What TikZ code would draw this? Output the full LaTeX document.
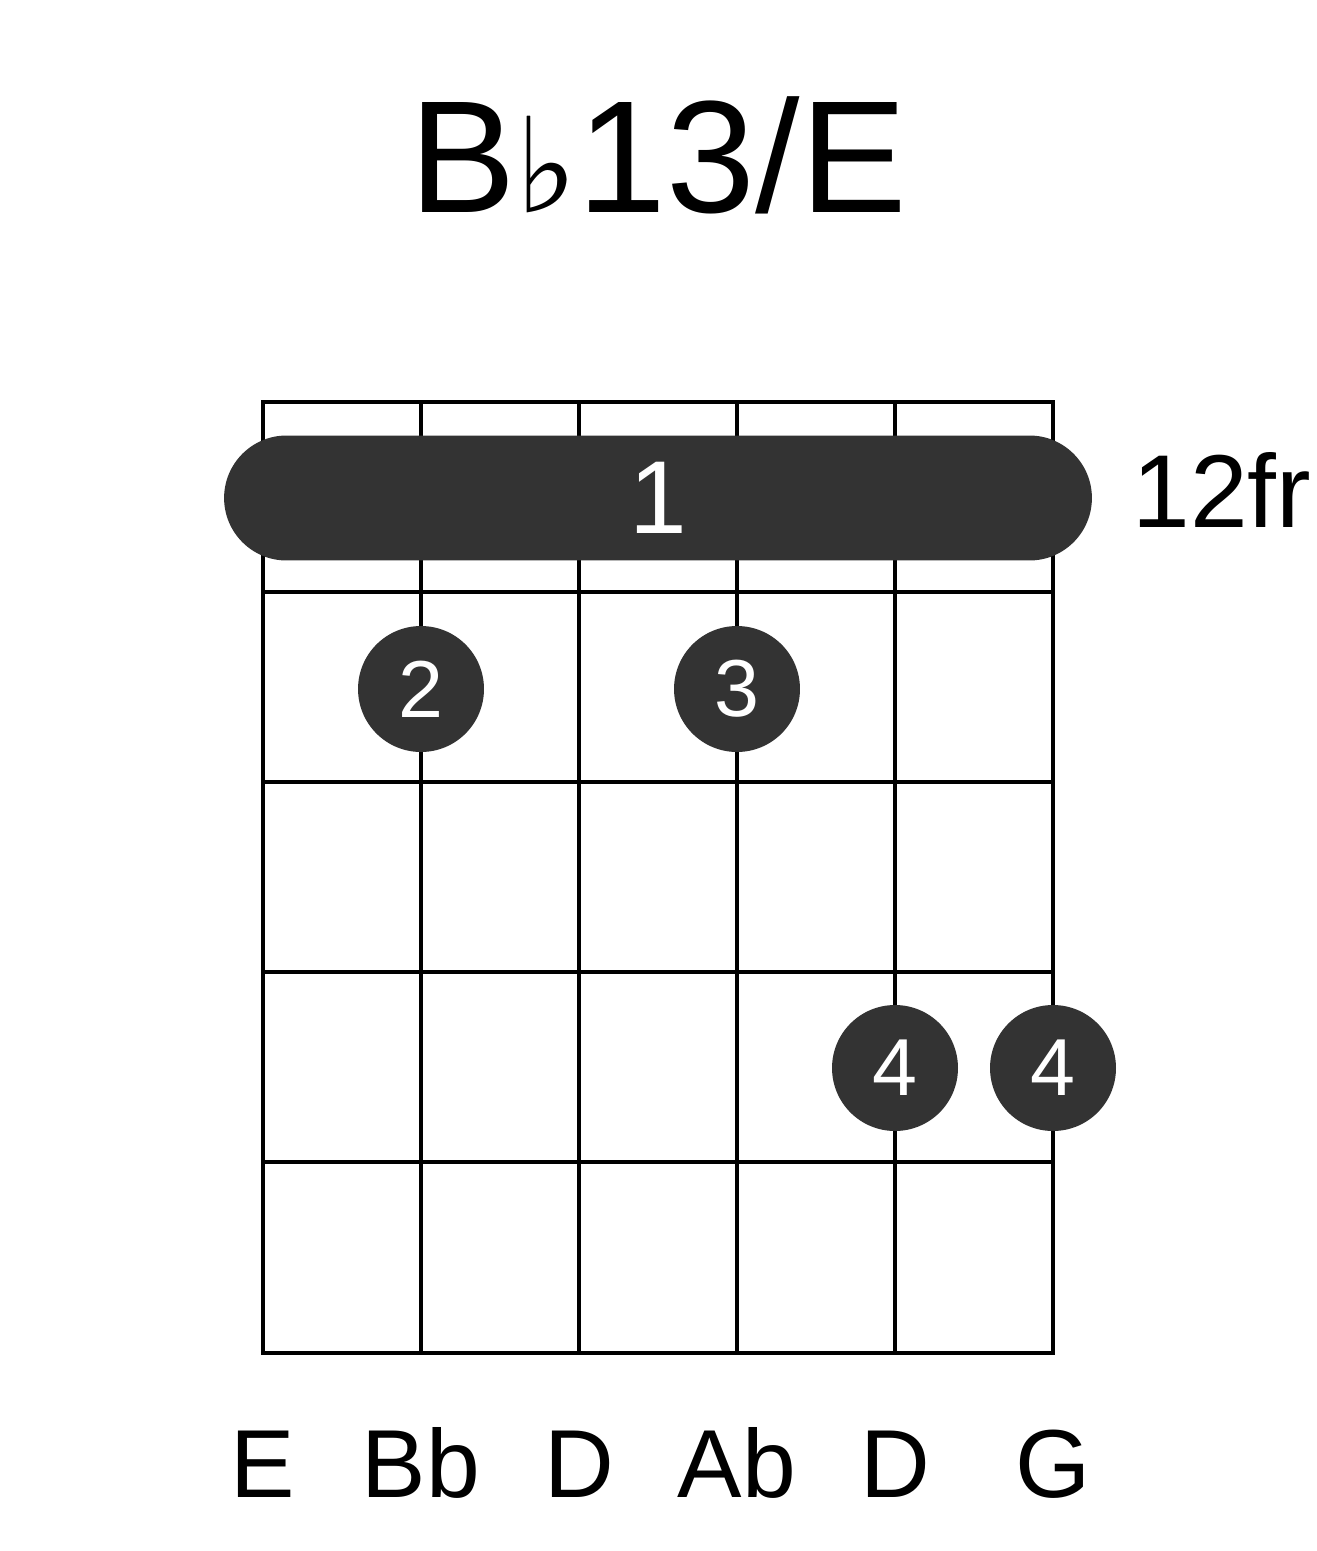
\documentclass[tikz,border=0pt]{standalone}
\usepackage{fontspec}
\setmainfont{Liberation Sans}
\newfontfamily\symfont{DejaVu Sans}
\definecolor{dotgray}{HTML}{333333}
\tikzset{
  finger/.style={circle, fill=dotgray, minimum size=2.52cm, inner sep=0pt, text=white, font=\fontsize{46}{46}\selectfont},
  notelabel/.style={font=\fontsize{55}{55}\selectfont, anchor=base}
}
\begin{document}
\begin{tikzpicture}[x=0.02cm, y=-0.02cm]
\useasboundingbox (0,0) rectangle (1317,1551);
% title
\node (title) at (658,155) {\fontsize{91}{91}\selectfont B{\symfont\fontsize{75}{75}\selectfont ♭}13/E};
% grid
\draw[line width=0.08cm] (263,402) rectangle (1053,1353);
\foreach \x in {421,579,737,895} \draw[line width=0.08cm] (\x,402) -- (\x,1353);
\foreach \y in {592,782,972,1162} \draw[line width=0.08cm] (263,\y) -- (1053,\y);
% barre
\node (barre) [fill=dotgray, rounded corners=1.25cm, minimum width=17.36cm, minimum height=2.5cm, inner sep=0pt, text=white, font=\fontsize{59}{59}\selectfont] at (658,498) {1};
\node (fret) [font=\fontsize{59}{59}\selectfont] at (1222,490) {12fr};
% fingers
\node (f2) [finger] at (421,689) {2};
\node (f3) [finger] at (737,689) {3};
\node (f4a) [finger] at (895,1068) {4};
\node (f4b) [finger] at (1053,1068) {4};
% string names
\foreach \x/\n [count=\i] in {263/E,421/Bb,579/D,737/Ab,895/D,1053/G}
  \node (s\i) [notelabel] at (\x,1497) {\n};
\end{tikzpicture}
\end{document}
